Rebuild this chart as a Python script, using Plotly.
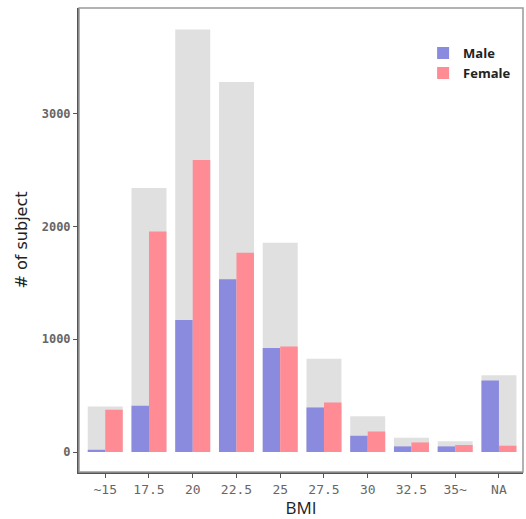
import plotly.graph_objects as go

categories = ["~15", "17.5", "20", "22.5", "25", "27.5", "30", "32.5", "35~", "NA"]
male = [20, 410, 1171, 1532, 921, 395, 144, 50, 50, 634]
female = [375, 1954, 2589, 1765, 935, 439, 182, 85, 62, 56]
total = [404, 2340, 3745, 3280, 1854, 826, 318, 126, 95, 680]

x = list(range(len(categories)))

fig = go.Figure()
fig.add_trace(go.Bar(x=x, y=total, width=0.8, offset=-0.4, marker_color="#e0e0e0",
                     marker_line_width=0, showlegend=False, name="Total"))
fig.add_trace(go.Bar(x=x, y=male, width=0.4, offset=-0.4, marker_color="#8a8ade",
                     marker_line_width=0, name="Male"))
fig.add_trace(go.Bar(x=x, y=female, width=0.4, offset=0.0, marker_color="#ff8c95",
                     marker_line_width=0, name="Female"))

fig.update_layout(
    width=526, height=519,
    barmode="overlay",
    plot_bgcolor="white", paper_bgcolor="white",
    margin=dict(l=79, r=3, t=8, b=47),
    legend=dict(x=0.775, y=0.935, xanchor="left", yanchor="top",
                bgcolor="rgba(0,0,0,0)", tracegroupgap=0,
                font=dict(family="Open Sans", size=13, color="#222", weight="bold"),
                itemwidth=30),
    shapes=[dict(type="rect", xref="paper", yref="paper", x0=0, x1=1, y0=0, y1=1,
                 line=dict(color="#999999", width=1.5), layer="above")],
)
fig.update_xaxes(
    range=[-0.6, 9.55], tickmode="array", tickvals=x, ticktext=categories,
    showline=True, linecolor="#555555", linewidth=2,
    ticks="outside", ticklen=4, tickcolor="#555555",
    showgrid=False, zeroline=False,
    tickfont=dict(family="DejaVu Sans Mono", size=13, color="#666666"),
    title=dict(text="BMI", font=dict(family="Open Sans", size=17, color="#222"), standoff=3),
)
fig.update_yaxes(
    range=[-177, 3935], tickvals=[0, 1000, 2000, 3000],
    showline=True, linecolor="#555555", linewidth=2,
    ticks="outside", ticklen=4, tickcolor="#555555",
    showgrid=False, zeroline=False,
    tickfont=dict(family="DejaVu Sans Mono", size=12, color="#666666", weight="bold"),
    title=dict(text="# of subject", font=dict(family="DejaVu Sans", size=16, color="#222"), standoff=10),
)

fig.write_html("out.html")
